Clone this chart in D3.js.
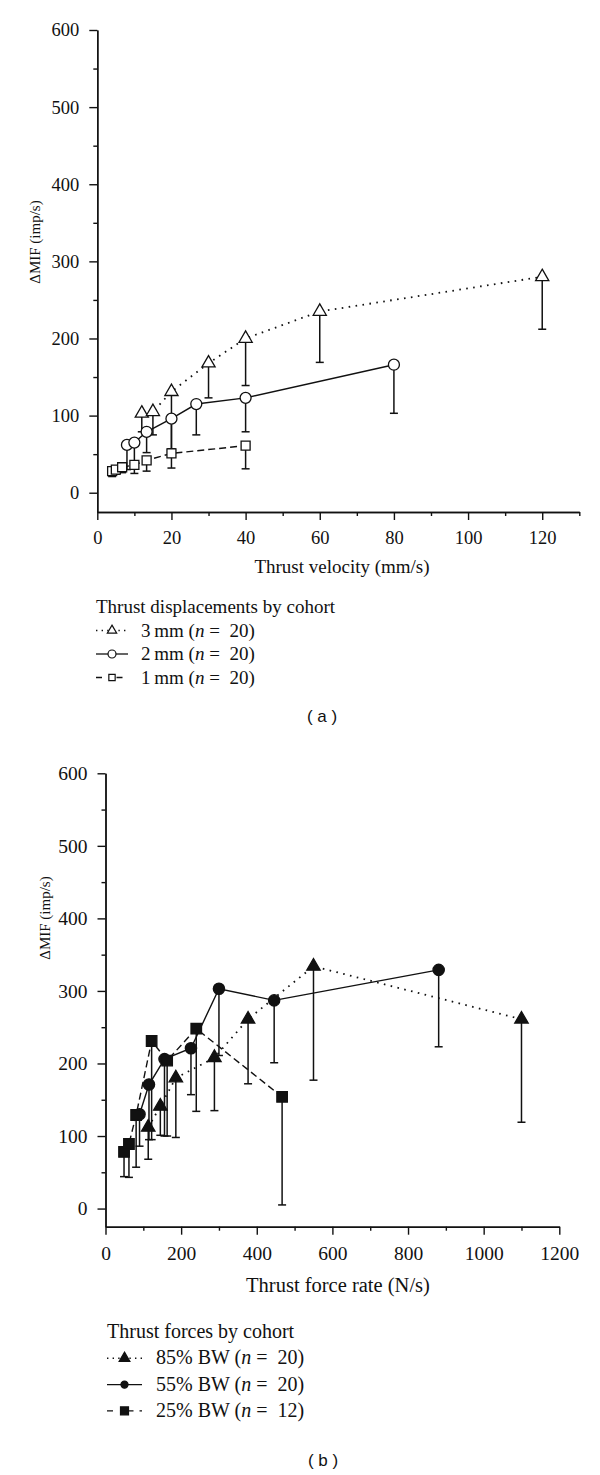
<!DOCTYPE html>
<html>
<head>
<meta charset="utf-8">
<script src="https://cdn.jsdelivr.net/npm/d3@7"></script>
<style>
  body { margin: 0; background: #fff; }
  text { font-family: "Liberation Serif", "DejaVu Serif", serif; fill: #111; }
</style>
</head>
<body>
<svg id="chart" width="600" height="1475"></svg>
<script>
// ---- panel (a): thrust velocity (mm/s) vs dMIF ----
var a3mmX = [12, 15, 20, 30, 40, 60, 120];
var a3mmY = [103, 105, 131, 168, 200, 235, 280];
var a3mmLow = [79, 75, 57, 123, 139, 169, 212];

var a2mmX = [8, 10, 13.3, 20, 26.7, 40, 80];
var a2mmY = [62, 65, 79, 96, 115, 123, 166];
var a2mmLow = [30, 40, 52, 57, 75, 79, 103];

var a1mmX = [4, 5, 6.7, 10, 13.3, 20, 40];
var a1mmY = [28, 30, 33, 36, 42, 51, 61];
var a1mmLow = [21, 24, 26, 25, 28, 32, 31];

// ---- panel (b): thrust force rate (N/s) vs dMIF ----
var b85X = [113, 145, 186, 288, 377, 550, 1100];
var b85Y = [112, 141, 180, 208, 261, 334, 261];
var b85Low = [68, 101, 98, 135, 172, 177, 119];

var b55X = [90, 115, 156, 226, 300, 446, 881];
var b55Y = [130, 171, 206, 221, 303, 287, 329];
var b55Low = [86, 95, 100, 157, 211, 201, 223];

var b25X = [49, 62, 81, 122, 163, 240, 467];
var b25Y = [78, 89, 129, 231, 204, 248, 154];
var b25Low = [44, 43, 57, 95, 100, 134, 5];

// ticks
var aXMajor = [0, 20, 40, 60, 80, 100, 120];
var aXMinor = [10, 30, 50, 70, 90, 110, 130];
var bXMajor = [0, 200, 400, 600, 800, 1000, 1200];
var bXMinor = [100, 300, 500, 700, 900, 1100];
var yMajor = [0, 100, 200, 300, 400, 500, 600];
var yMinor = [50, 150, 250, 350, 450, 550];

var svg = d3.select("#chart");
svg.append("rect").attr("width", 600).attr("height", 1475).attr("fill", "#fff");

var dotted = "1.6,5.4", dashed = "7,4";
var fmt = d3.format("d");

function zip(xs, ys, lows) {
    return xs.map(function(v, i) { return { x: v, y: ys[i], low: lows[i] }; });
}

function panel(p) {
    var g = svg.append("g");
    var x = d3.scaleLinear().domain(p.xDomain).range([p.left, p.right]);
    var y = d3.scaleLinear().domain([-25, 600]).range([p.bottom, p.top]);

    // axes - minor first, then major with labels
    g.append("g").attr("class", "ax").attr("transform", `translate(0,${p.bottom})`)
        .call(d3.axisBottom(x).tickValues(p.xMinor).tickSize(4).tickSizeOuter(0).tickFormat(""));
    g.append("g").attr("class", "ax").attr("transform", `translate(0,${p.bottom})`)
        .call(d3.axisBottom(x).tickValues(p.xMajor).tickSize(8).tickSizeOuter(0).tickPadding(11).tickFormat(fmt));
    g.append("g").attr("class", "ax").attr("transform", `translate(${p.left},0)`)
        .call(d3.axisLeft(y).tickValues(yMinor).tickSize(4).tickSizeOuter(0).tickFormat(""));
    g.append("g").attr("class", "ax").attr("transform", `translate(${p.left},0)`)
        .call(d3.axisLeft(y).tickValues(yMajor).tickSize(8).tickSizeOuter(0).tickPadding(10).tickFormat(fmt));

    g.selectAll(".ax").attr("font-family", "Liberation Serif").attr("font-size", p.tickFont);
    g.selectAll(".ax path, .ax line").attr("stroke", "#111").attr("stroke-width", 1.4);
    g.selectAll(".ax text").style("font-family", "Liberation Serif").style("font-size", p.tickFont + "px").attr("fill", "#111");

    // axis titles
    g.append("text").attr("x", p.xTitleX).attr("y", p.xTitleY).attr("text-anchor", "middle")
        .style("font-size", p.titleFont + "px").text(p.xTitle);
    g.append("text").attr("transform", `translate(${p.yTitleX},${p.yTitleY}) rotate(-90)`)
        .attr("text-anchor", "middle").style("font-size", p.yTitleFont + "px").text("ΔMIF (imp/s)");

    // error bars (downward only)
    p.series.forEach(function(s) {
        var eb = g.append("g");
        s.data.forEach(function(d) {
            eb.append("line").attr("x1", x(d.x)).attr("x2", x(d.x))
                .attr("y1", y(d.y)).attr("y2", y(d.low))
                .attr("stroke", "#111").attr("stroke-width", 1.5);
            eb.append("line").attr("x1", x(d.x) - 4).attr("x2", x(d.x) + 4)
                .attr("y1", y(d.low)).attr("y2", y(d.low))
                .attr("stroke", "#111").attr("stroke-width", 1.5);
        });
    });

    // connecting lines
    var line = d3.line().x(function(d) { return x(d.x); }).y(function(d) { return y(d.y); });
    p.series.forEach(function(s) {
        g.append("path").datum(s.data).attr("d", line)
            .attr("fill", "none").attr("stroke", "#111")
            .attr("stroke-width", s.dash == dotted ? 1.8 : 1.4)
            .attr("stroke-dasharray", s.dash);
    });

    // markers
    p.series.forEach(function(s) {
        g.selectAll(null).data(s.data).enter().append("path")
            .attr("d", d3.symbol().type(s.symbol).size(s.size))
            .attr("transform", function(d) { return `translate(${x(d.x)},${y(d.y)})`; })
            .attr("fill", p.filled ? "#111" : "#fff")
            .attr("stroke", "#111").attr("stroke-width", 1.3);
    });

    // legend
    var lg = g.append("g");
    lg.append("text").attr("x", p.legX).attr("y", p.legY).style("font-size", p.legFont + "px").text(p.legTitle);
    p.series.forEach(function(s, i) {
        var by = p.legY + (i + 1) * p.legStep;
        var cy = by - 6;
        lg.append("line").attr("x1", p.legX).attr("x2", p.legX + p.legLine)
            .attr("y1", cy).attr("y2", cy)
            .attr("stroke", "#111").attr("stroke-width", s.dash == dotted ? 1.6 : 1.3)
            .attr("stroke-dasharray", s.dash == dotted ? "1.4,4.2" : (s.dash ? "6,14.5,6" : null));
        lg.append("path").attr("d", d3.symbol().type(s.symbol).size(s.legSize))
            .attr("transform", `translate(${p.legX + p.legLine / 2},${cy})`)
            .attr("fill", p.filled ? "#111" : "#fff").attr("stroke", "#111").attr("stroke-width", 1.2);
        var t = lg.append("text").attr("x", p.legTextX).attr("y", by).style("font-size", p.legFont + "px");
        t.append("tspan").text(s.label + " (");
        t.append("tspan").style("font-style", "italic").text("n");
        t.append("tspan").text(" =\u2002" + s.n + ")");
    });

    // panel tag
    g.append("text").attr("x", p.tagX).attr("y", p.tagY).attr("text-anchor", "middle")
        .style("font-family", "Liberation Sans").style("font-size", "17px").text(p.tag);
}

panel({
    xDomain: [0, 130], left: 97.3, right: 579.3, top: 30, bottom: 512,
    xMajor: aXMajor, xMinor: aXMinor, tickFont: 18.5, titleFont: 19, yTitleFont: 15,
    xTitle: "Thrust velocity (mm/s)", xTitleX: 342, xTitleY: 573,
    yTitleX: 40, yTitleY: 242, filled: false,
    legTitle: "Thrust displacements by cohort", legX: 96, legY: 613, legStep: 23.5,
    legLine: 32, legTextX: 141, legFont: 19,
    tag: "( a )", tagX: 322, tagY: 722,
    series: [
        { data: zip(a3mmX, a3mmY, a3mmLow), symbol: d3.symbolTriangle, size: 75, legSize: 38, dash: dotted, label: "3\u2009mm", n: 20 },
        { data: zip(a2mmX, a2mmY, a2mmLow), symbol: d3.symbolCircle, size: 95, legSize: 50, dash: null, label: "2\u2009mm", n: 20 },
        { data: zip(a1mmX, a1mmY, a1mmLow), symbol: d3.symbolSquare, size: 81, legSize: 40, dash: dashed, label: "1\u2009mm", n: 20 }
    ]
});

panel({
    xDomain: [0, 1200], left: 105.5, right: 559.3, top: 773.3, bottom: 1226.7,
    xMajor: bXMajor, xMinor: bXMinor, tickFont: 19.5, titleFont: 20.5, yTitleFont: 15,
    xTitle: "Thrust force rate (N/s)", xTitleX: 338, xTitleY: 1292,
    yTitleX: 50, yTitleY: 918, filled: true,
    legTitle: "Thrust forces by cohort", legX: 107, legY: 1338, legStep: 26.3,
    legLine: 35, legTextX: 156, legFont: 20,
    tag: "( b )", tagX: 323, tagY: 1466,
    series: [
        { data: zip(b85X, b85Y, b85Low), symbol: d3.symbolTriangle, size: 78, legSize: 50, dash: dotted, label: "85% BW", n: 20 },
        { data: zip(b55X, b55Y, b55Low), symbol: d3.symbolCircle, size: 100, legSize: 40, dash: null, label: "55% BW", n: 20 },
        { data: zip(b25X, b25Y, b25Low), symbol: d3.symbolSquare, size: 110, legSize: 64, dash: dashed, label: "25% BW", n: 12 }
    ]
});
</script>
</body>
</html>
